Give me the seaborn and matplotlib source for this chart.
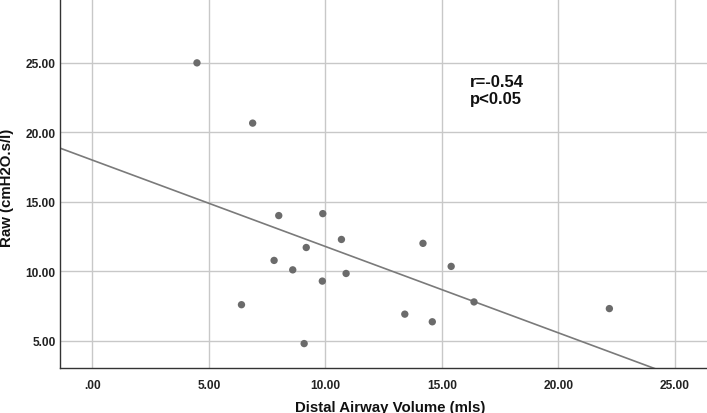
import numpy as np
import pandas as pd
import matplotlib
matplotlib.use("Agg")
import matplotlib.pyplot as plt
import seaborn as sns

distal_airway_volume = [4.49, 6.88, 8.0, 9.89, 7.8, 8.6, 9.18, 10.69, 9.87, 10.89,
                        6.4, 9.09, 14.19, 15.4, 16.38, 13.41, 14.59, 22.19]
raw_values = [25.0, 20.66, 14.0, 14.14, 10.77, 10.09, 11.7, 12.28, 9.28, 9.83,
              7.58, 4.78, 12.0, 10.34, 7.78, 6.9, 6.35, 7.3]
x_ticks = [0, 5, 10, 15, 20, 25]
x_tick_labels = [".00", "5.00", "10.00", "15.00", "20.00", "25.00"]
y_ticks = [5, 10, 15, 20, 25]
y_tick_labels = ["5.00", "10.00", "15.00", "20.00", "25.00"]
annotation = "r=-0.54\np<0.05"

df = pd.DataFrame({"x": distal_airway_volume, "y": raw_values})

sns.set_theme(style="white")
plt.rcParams["font.family"] = ["Liberation Sans", "DejaVu Sans"]

fig = plt.figure(figsize=(7.07, 4.14), dpi=100)
ax = fig.add_axes([0.0845, 0.108, 0.9155, 0.892])

xlim = (-1.4, 26.38)
ylim = (3.0, 29.6)
ax.set_xlim(*xlim)
ax.set_ylim(*ylim)

ax.set_xticks(x_ticks)
ax.set_xticklabels(x_tick_labels)
ax.set_yticks(y_ticks)
ax.set_yticklabels(y_tick_labels)
ax.grid(True, color="#c8c8c8", linewidth=1.0)
ax.set_axisbelow(True)

sns.scatterplot(data=df, x="x", y="y", ax=ax, color="#6b6b6b", s=28,
                edgecolor="none", zorder=3)

slope, intercept = np.polyfit(df["x"], df["y"], 1)
lx = np.array(xlim)
ax.plot(lx, intercept + slope * lx, color="#7a7a7a", linewidth=1.2, zorder=2)
ax.set_xlim(*xlim)
ax.set_ylim(*ylim)

for side in ["top", "right"]:
    ax.spines[side].set_visible(False)
for side in ["left", "bottom"]:
    ax.spines[side].set_color("#333333")
    ax.spines[side].set_linewidth(1.0)

ax.tick_params(axis="both", length=0, labelsize=8.6, colors="#222222")
ax.tick_params(axis="y", pad=3)
ax.tick_params(axis="x", pad=8)
for lab in ax.get_xticklabels() + ax.get_yticklabels():
    lab.set_fontweight("bold")

ax.set_xlabel("Distal Airway Volume (mls)", fontsize=10.8, fontweight="bold", color="#111111")
ax.set_ylabel("Raw (cmH2O.s/l)", fontsize=10.8, fontweight="bold", color="#111111")
ax.xaxis.set_label_coords(0.51, -0.085)
ax.yaxis.set_label_coords(-0.071, 0.49)

ax.text(16.2, 24.2, annotation, fontsize=12, fontweight="bold", color="#111111",
        ha="left", va="top", linespacing=1.15)

fig.savefig("out.png", dpi=100)
